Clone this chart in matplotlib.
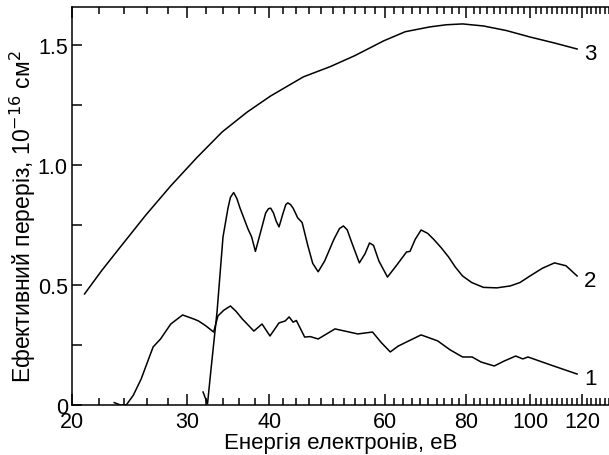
import matplotlib
matplotlib.use('Agg')
import matplotlib.pyplot as plt
import matplotlib.ticker as mticker

plt.rcParams['font.family'] = ['Liberation Sans', 'DejaVu Sans']
plt.rcParams['lines.solid_joinstyle'] = 'round'

# крива 1
e1 = [23.2, 23.7, 24.2, 24.8, 25.5, 26.0, 26.6, 27.3, 28.3, 29.5,
      30.7, 31.2, 32.0, 32.9, 33.4, 34.1, 34.9, 35.6, 36.4, 37.9,
      39.0, 40.1, 41.4, 42.3, 42.9, 43.5, 44.0, 45.3, 46.2, 47.5,
      50.4, 54.6, 57.5, 59.3, 61.2, 62.9, 64.8, 68.2, 72.3, 75.5,
      78.9, 81.6, 84.2, 88.2, 91.3, 95.1, 97.5, 99.3, 108, 118]
s1 = [0.01, 0.0, 0.0, 0.04, 0.108, 0.17, 0.242, 0.275, 0.3375, 0.375,
      0.358, 0.35, 0.33, 0.304, 0.371, 0.395, 0.4125, 0.39, 0.358, 0.308,
      0.3375, 0.2875, 0.342, 0.35, 0.367, 0.345, 0.352, 0.283, 0.285, 0.275,
      0.317, 0.296, 0.304, 0.26, 0.221, 0.245, 0.2625, 0.292, 0.267, 0.23,
      0.2, 0.2, 0.179, 0.1625, 0.183, 0.204, 0.192, 0.2, 0.165, 0.129]

# крива 2
e2 = [31.7, 32.2, 32.6, 33.3, 34.0, 34.6, 34.9, 35.3, 35.7, 36.1,
      37.1, 37.6, 38.1, 38.8, 39.5, 39.9, 40.2, 40.6, 41.0, 41.4,
      42.0, 42.4, 42.7, 43.1, 43.5, 44.2, 44.9, 45.8, 46.6, 47.5,
      48.6, 50.2, 51.2, 51.9, 52.6, 53.4, 54.9, 56.0, 56.9, 57.7,
      58.8, 60.6, 62.5, 64.8, 65.6, 66.8, 68.2, 69.8, 71.3, 73.2,
      75.1, 76.9, 78.9, 81.5, 84.9, 89.0, 93.3, 96.5, 100, 104.5,
      109, 113.5, 118]
s2 = [0.054, 0.005, 0.15, 0.39, 0.70, 0.82, 0.865, 0.885, 0.86, 0.82,
      0.735, 0.70, 0.64, 0.72, 0.80, 0.818, 0.82, 0.80, 0.765, 0.742,
      0.80, 0.835, 0.842, 0.835, 0.82, 0.78, 0.76, 0.665, 0.59, 0.555,
      0.60, 0.69, 0.735, 0.746, 0.73, 0.68, 0.592, 0.63, 0.675, 0.665,
      0.60, 0.533, 0.58, 0.6375, 0.64, 0.69, 0.729, 0.715, 0.69, 0.655,
      0.617, 0.575, 0.5375, 0.51, 0.49, 0.488, 0.496, 0.51, 0.5375, 0.57,
      0.592, 0.58, 0.5375]

# крива 3
e3 = [20.9, 22.2, 23.7, 25.9, 28.3, 31.0, 33.9, 37.0, 40.2, 45.1,
      49.6, 54.0, 59.8, 64.5, 70.3, 74.5, 78.9, 84.9, 92.0, 100, 109, 118]
s3 = [0.4625, 0.56, 0.658, 0.79, 0.913, 1.03, 1.1375, 1.22, 1.2875, 1.367,
      1.41, 1.455, 1.517, 1.555, 1.575, 1.584, 1.5875, 1.579, 1.56, 1.533,
      1.508, 1.483]

x_major = [20, 30, 40, 60, 80, 100, 120]
x_labels = ['20', '30', '40', '60', '80', '100', '120']
x_minor = [e for e in range(22, 134, 2) if e not in x_major]
y_major = [0, 0.5, 1.0, 1.5]
y_labels = ['0', '0.5', '1.0', '1.5']
y_minor = [0.25, 0.75, 1.25]

fig = plt.figure(figsize=(6.09, 4.56), dpi=100)
ax = fig.add_axes([72 / 609, 50 / 456, 1 - 72 / 609, 398 / 456])

for e, s, name in [(e1, s1, '1'), (e2, s2, '2'), (e3, s3, '3')]:
    ax.plot(e, s, color='black', lw=1.1)
    ax.text(e[-1] * 1.025, s[-1] - 0.02, name, fontsize=16, va='center', ha='left')

ax.set_xscale('log')
ax.set_xlim(20, 132)
ax.set_ylim(0, 1.658)

ax.xaxis.set_major_locator(mticker.FixedLocator(x_major))
ax.xaxis.set_major_formatter(mticker.FixedFormatter(x_labels))
ax.xaxis.set_minor_locator(mticker.FixedLocator(x_minor))
ax.xaxis.set_minor_formatter(mticker.NullFormatter())
ax.yaxis.set_major_locator(mticker.FixedLocator(y_major))
ax.yaxis.set_major_formatter(mticker.FixedFormatter(y_labels))
ax.yaxis.set_minor_locator(mticker.FixedLocator(y_minor))

# тики всередину, як в оригіналі
ax.tick_params(axis='x', which='major', direction='in', length=8, width=1.1,
               labelsize=15.5, pad=4, top=True)
ax.tick_params(axis='x', which='minor', direction='in', length=5, width=1.1, top=True)
ax.tick_params(axis='y', which='both', direction='in', length=7, width=1.1,
               labelsize=15.5, pad=3)

ax.spines['right'].set_visible(False)
for sp in ['left', 'bottom', 'top']:
    ax.spines[sp].set_linewidth(1.1)

ax.set_xlabel('Енергія електронів, еВ', fontsize=16, labelpad=0)
ax.set_ylabel('Ефективний переріз, 10$^{-16}$ см$^2$', fontsize=16.5)
ax.yaxis.set_label_coords(-0.063, 0.475)

fig.savefig('out.png', dpi=100)
